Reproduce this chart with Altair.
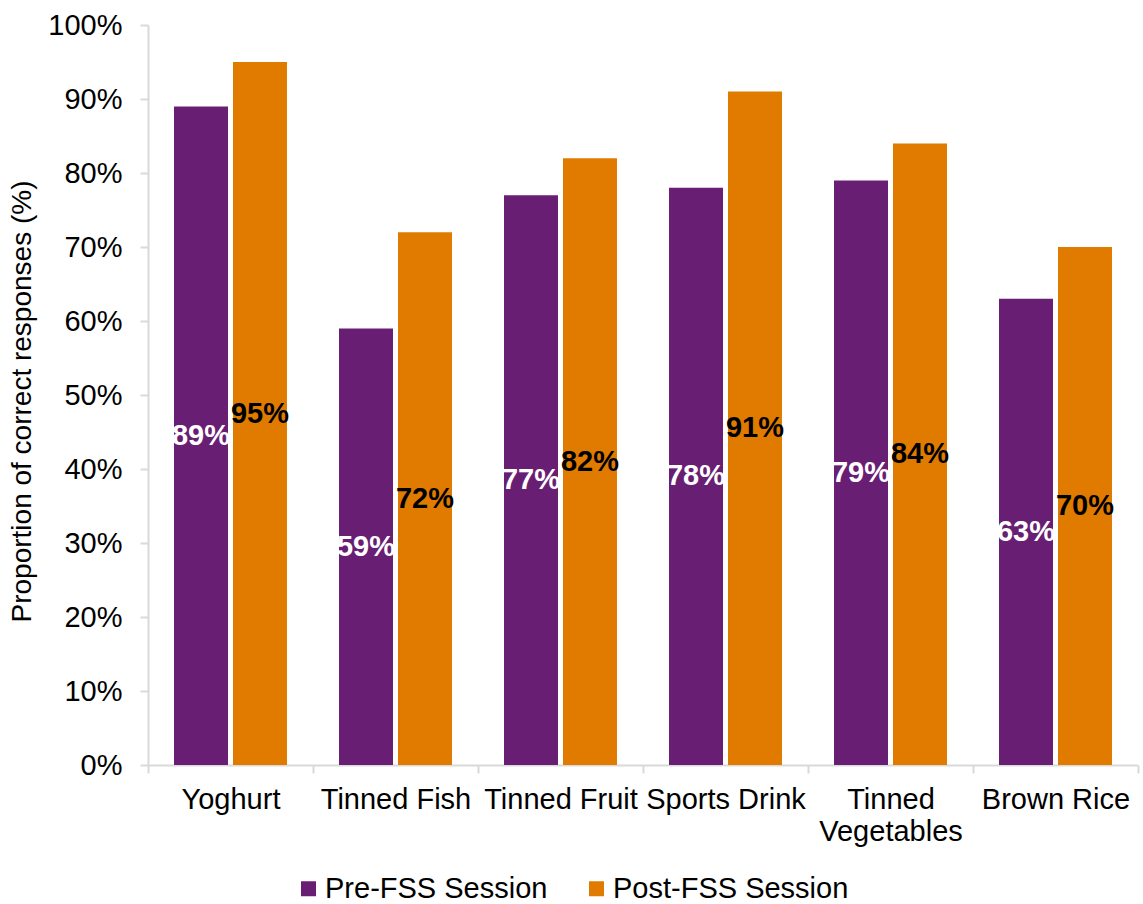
import altair as alt
import pandas as pd

categories = ["Yoghurt", "Tinned Fish", "Tinned Fruit", "Sports Drink", "Tinned Vegetables", "Brown Rice"]
series = ["Pre-FSS Session", "Post-FSS Session"]
pre_values = [89, 59, 77, 78, 79, 63]
post_values = [95, 72, 82, 91, 84, 70]
y_ticks = [0, 10, 20, 30, 40, 50, 60, 70, 80, 90, 100]
colors = ["#681E72", "#E07B00"]

rows = []
for c, a, b in zip(categories, pre_values, post_values):
    rows.append({"cat": c, "series": series[0], "value": a})
    rows.append({"cat": c, "series": series[1], "value": b})
df = pd.DataFrame(rows)

FONT = "Liberation Sans"
FS = 29

x = alt.X(
    "cat:N",
    sort=categories,
    scale=alt.Scale(paddingInner=0, paddingOuter=0),
    axis=alt.Axis(
        title=None,
        tickBand="extent",
        labelAngle=0,
        labelFont=FONT,
        labelFontSize=FS,
        labelColor="black",
        labelPadding=12,
        labelLineHeight=32,
        labelOverlap=False,
        labelLimit=400,
        labelExpr="datum.value == 'Tinned Vegetables' ? ['Tinned', 'Vegetables'] : datum.value",
        domainColor="#D9D9D9",
        domainWidth=2,
        tickColor="#D9D9D9",
        tickWidth=2,
        tickSize=8,
    ),
)
xoff = alt.XOffset(
    "series:N",
    sort=series,
    scale=alt.Scale(paddingInner=0.085, paddingOuter=0.441),
)

bars = alt.Chart(df).mark_bar().encode(
    x=x,
    xOffset=xoff,
    y=alt.Y(
        "value:Q",
        scale=alt.Scale(domain=[0, 100], nice=False),
        axis=alt.Axis(
            title="Proportion of correct responses (%)",
            values=y_ticks,
            labelExpr="datum.value + '%'",
            labelFont=FONT,
            labelFontSize=FS,
            labelColor="black",
            labelPadding=18,
            titleFont=FONT,
            titleFontSize=28,
            titleFontWeight="normal",
            titleColor="black",
            titleX=-112,
            titleY=376,
            grid=False,
            domainColor="#D9D9D9",
            domainWidth=2,
            tickColor="#D9D9D9",
            tickWidth=2,
            tickSize=8,
        ),
    ),
    color=alt.Color(
        "series:N",
        sort=series,
        scale=alt.Scale(domain=series, range=colors),
        legend=alt.Legend(
            title=None,
            orient="none",
            direction="horizontal",
            legendX=146,
            legendY=849,
            padding=0,
            symbolType="square",
            symbolSize=225,
            symbolStrokeWidth=0,
            labelFont=FONT,
            labelFontSize=FS,
            labelColor="black",
            labelOffset=2,
            columnPadding=34,
            labelLimit=400,
        ),
    ),
)

labels = alt.Chart(df).transform_calculate(
    half="datum.value / 2", txt="datum.value + '%'"
).mark_text(
    font=FONT, fontSize=FS, fontWeight="bold", baseline="middle", align="center"
).encode(
    x=x,
    xOffset=xoff,
    y=alt.Y("half:Q"),
    text="txt:N",
    color=alt.condition(
        "datum.series == 'Pre-FSS Session'", alt.value("white"), alt.value("black")
    ),
)

chart = (
    alt.layer(bars, labels)
    .properties(
        width=990,
        height=740,
        autosize=alt.AutoSizeParams(type="none"),
        padding={"left": 148, "top": 25, "right": 5, "bottom": 139},
        background="white",
    )
    .configure_view(stroke=None)
)

chart.save("out.html", embed_options={"renderer": "svg", "actions": False})
